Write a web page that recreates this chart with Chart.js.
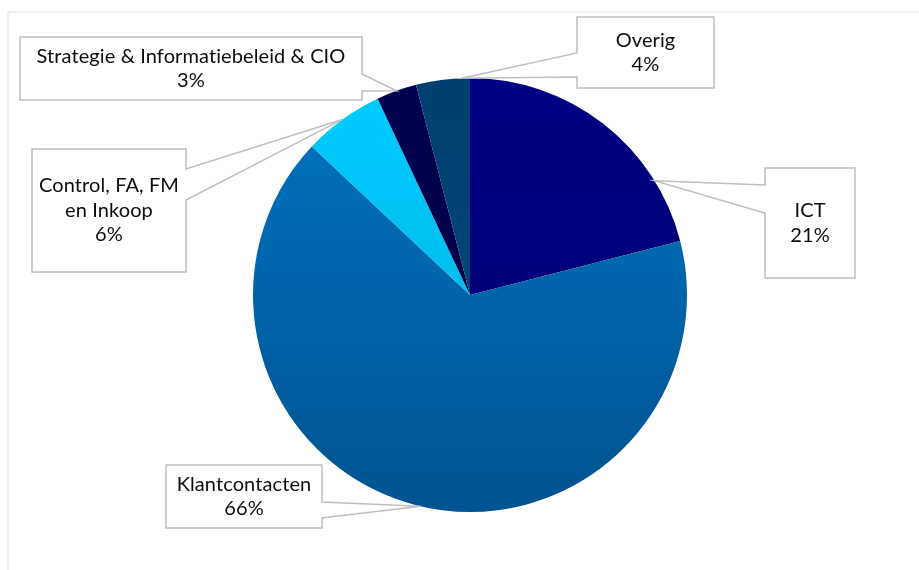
<!DOCTYPE html>
<html>
<head>
<meta charset="utf-8">
<script src="https://cdn.jsdelivr.net/npm/chart.js@4"></script>
<style>
  html, body { margin: 0; padding: 0; background: #fff; }
  #wrap { position: relative; width: 919px; height: 570px; }
</style>
</head>
<body>
<div id="wrap"><canvas id="pieChart" width="919" height="570"></canvas></div>
<script>
// data
const categories = ['ICT', 'Klantcontacten', 'Control, FA, FM en Inkoop', 'Strategie & Informatiebeleid & CIO', 'Overig'];
const shares = [21, 66, 6, 3, 4];
const labelLines = [
    ['ICT', '21%'],
    ['Klantcontacten', '66%'],
    ['Control, FA, FM', 'en Inkoop', '6%'],
    ['Strategie & Informatiebeleid & CIO', '3%'],
    ['Overig', '4%']
];
const topColors = ['#000084', '#0074c4', '#00ccff', '#000052', '#004070'];
const bottomColors = ['#00006c', '#00538f', '#00aee0', '#00003e', '#004a7c'];

// callout boxes: box rect, side the pointer leaves from, pointer base, where on the arc it lands
const callouts = [
    { x: 765, y: 168, w: 90, h: 110, side: 'left', p1: 185, p2: 213, t: 0.77 },
    { x: 166, y: 465, w: 156, h: 63, side: 'right', p1: 502, p2: 518, t: 0.495 },
    { x: 32, y: 149, w: 154, h: 123, side: 'right', p1: 169, p2: 200, t: 0.5 },
    { x: 20, y: 37, w: 342, h: 63, side: 'right', p1: 74, p2: 91, t: 0.5 },
    { x: 577, y: 17, w: 137, h: 71, side: 'left', p1: 53, p2: 77, t: 0.85 }
];

function sliceColor(ctx) {
    const chart = ctx.chart;
    const area = chart.chartArea;
    const i = ctx.dataIndex;
    if (!area) return topColors[i];
    const g = chart.ctx.createLinearGradient(0, area.top, 0, area.bottom);
    g.addColorStop(0, topColors[i]);
    g.addColorStop(1, bottomColors[i]);
    return g;
}

const frame = {
    id: 'frame',
    beforeDraw(chart) {
        const c = chart.ctx;
        c.save();
        c.strokeStyle = '#ebebeb';
        c.lineWidth = 1.5;
        c.beginPath();
        c.moveTo(8, 570);
        c.lineTo(8, 12);
        c.lineTo(919, 12);
        c.stroke();
        c.restore();
    }
};

const calloutPlugin = {
    id: 'callouts',
    afterDatasetsDraw(chart) {
        const c = chart.ctx;
        const arcs = chart.getDatasetMeta(0).data;
        c.save();
        arcs.forEach(function(arc, i) {
            const b = callouts[i];
            const a = arc.startAngle + b.t * (arc.endAngle - arc.startAngle);
            const px = arc.x + arc.outerRadius * Math.cos(a);
            const py = arc.y + arc.outerRadius * Math.sin(a);
            c.beginPath();
            if (b.side === 'left') {
                c.moveTo(b.x, b.y);
                c.lineTo(b.x + b.w, b.y);
                c.lineTo(b.x + b.w, b.y + b.h);
                c.lineTo(b.x, b.y + b.h);
                c.lineTo(b.x, b.p2);
                c.lineTo(px, py);
                c.lineTo(b.x, b.p1);
            } else {
                c.moveTo(b.x, b.y);
                c.lineTo(b.x + b.w, b.y);
                c.lineTo(b.x + b.w, b.p1);
                c.lineTo(px, py);
                c.lineTo(b.x + b.w, b.p2);
                c.lineTo(b.x + b.w, b.y + b.h);
                c.lineTo(b.x, b.y + b.h);
            }
            c.closePath();
            c.fillStyle = '#ffffff';
            c.fill();
            c.strokeStyle = '#bfbfbf';
            c.lineWidth = 1.5;
            c.stroke();

            const lines = labelLines[i];
            const lh = 24.5;
            const cx = b.x + b.w / 2;
            const cy = b.y + b.h / 2;
            c.fillStyle = '#0d0d0d';
            c.font = '20px Lato, "Open Sans", sans-serif';
            c.letterSpacing = '0.1px'; // keeps Lato from joining "ti"
            c.textAlign = 'center';
            c.textBaseline = 'middle';
            lines.forEach(function(s, k) {
                c.fillText(s, cx, cy + (k - (lines.length - 1) / 2) * lh);
            });
        });
        c.restore();
    }
};

document.addEventListener('DOMContentLoaded', function() {
    const ctx = document.getElementById('pieChart').getContext('2d');
    new Chart(ctx, {
        type: 'pie',
        data: {
            labels: categories,
            datasets: [{
                data: shares,
                backgroundColor: sliceColor,
                borderWidth: 0
            }]
        },
        options: {
            responsive: false,
            animation: false,
            layout: { padding: { top: 78, bottom: 58, left: 253, right: 232 } },
            plugins: {
                legend: { display: false },
                tooltip: { enabled: false }
            }
        },
        plugins: [frame, calloutPlugin]
    });
});
</script>
</body>
</html>
